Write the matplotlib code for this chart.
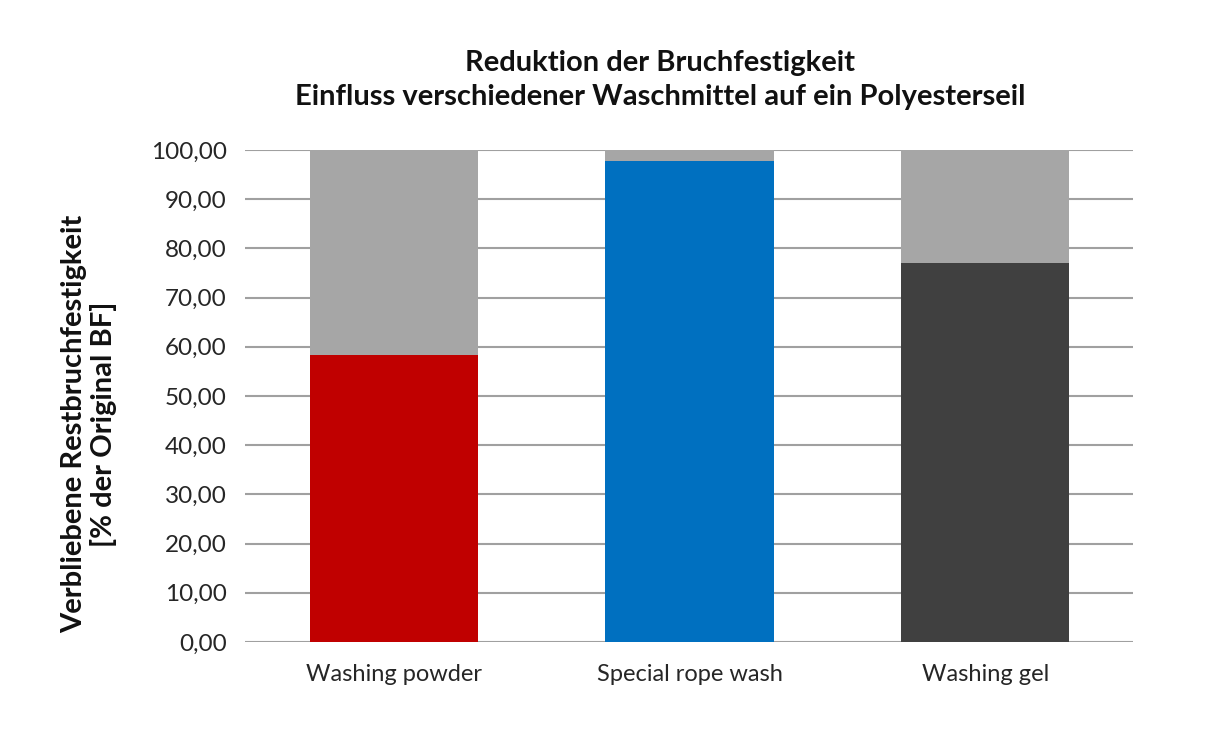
import matplotlib
matplotlib.use("Agg")
import matplotlib.pyplot as plt
import numpy as np

categories = ["Washing powder", "Special rope wash", "Washing gel"]
remaining = [58.3, 97.8, 77.0]
loss = [100 - v for v in remaining]
bar_colors = ["#C00000", "#0070C0", "#404040"]
loss_color = "#A6A6A6"
yticks = [0, 10, 20, 30, 40, 50, 60, 70, 80, 90, 100]

plt.rcParams['font.family'] = ['Lato', 'DejaVu Sans']

fig = plt.figure(figsize=(12.12, 7.52), dpi=100)
ax = fig.add_axes([245/1212, 1-642/752, (1133-245)/1212, (642-150)/752])

x = np.arange(len(categories))
ax.bar(x, remaining, width=0.57, color=bar_colors, zorder=3)
ax.bar(x, loss, bottom=remaining, width=0.57, color=loss_color, zorder=3)

ax.set_xlim(-0.504, 2.5)
ax.set_ylim(0, 100)
ax.set_yticks(yticks)
ax.set_yticklabels([f"{v:.2f}".replace(".", ",") for v in yticks], fontsize=17.5, color="#262626")
ax.set_xticks(x)
ax.set_xticklabels(categories, fontsize=17, color="#262626")
ax.tick_params(axis='both', length=0)
ax.tick_params(axis='y', pad=13)
ax.tick_params(axis='x', pad=16)
for s in ax.spines.values():
    s.set_visible(False)
ax.yaxis.grid(True, color="#A0A0A0", linewidth=1.5, zorder=0)
ax.set_axisbelow(True)

fig.text(89/1212, 1-424/752, "Verbliebene Restbruchfestigkeit\n[% der Original BF]", rotation=90,
         ha='center', va='center', fontsize=21, fontweight='bold', linespacing=1.12, color="#111111")

fig.text(660/1212, 1-80/752, "Reduktion der Bruchfestigkeit\nEinfluss verschiedener Waschmittel auf ein Polyesterseil",
         ha='center', va='center', fontsize=21, fontweight='bold', linespacing=1.42, color="#111111")

fig.savefig("out.png", dpi=100)
